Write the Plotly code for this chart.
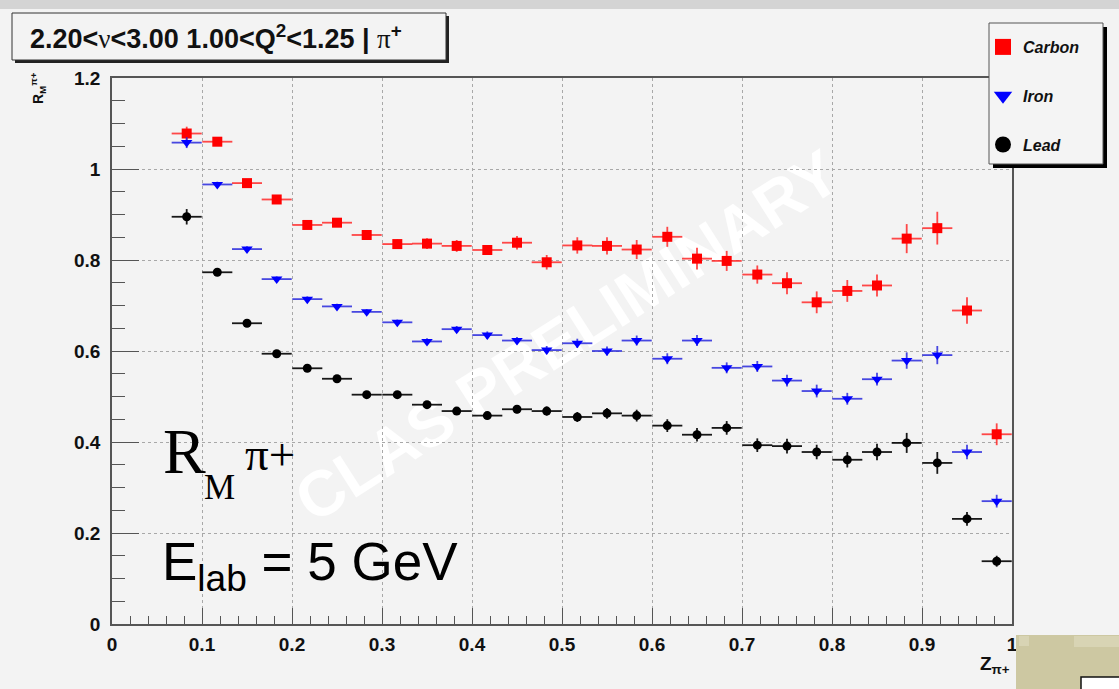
import plotly.graph_objects as go

W, H = 1119, 689

# ---- data ----
z_bins = [0.083, 0.117, 0.150, 0.183, 0.217, 0.250, 0.283, 0.317, 0.350, 0.383,
          0.417, 0.450, 0.483, 0.517, 0.550, 0.583, 0.617, 0.650, 0.683, 0.717,
          0.750, 0.783, 0.817, 0.850, 0.883, 0.917, 0.950, 0.983]
bin_half_width = 0.0167

carbon = [1.078, 1.060, 0.969, 0.933, 0.877, 0.882, 0.855, 0.835, 0.836, 0.831,
          0.822, 0.838, 0.795, 0.832, 0.831, 0.823, 0.851, 0.803, 0.798, 0.768,
          0.749, 0.707, 0.732, 0.744, 0.847, 0.870, 0.689, 0.417]
carbon_err = [0.015, 0.008, 0.008, 0.008, 0.008, 0.008, 0.009, 0.010, 0.012, 0.013,
              0.011, 0.015, 0.016, 0.018, 0.019, 0.021, 0.022, 0.024, 0.022, 0.020,
              0.024, 0.024, 0.024, 0.024, 0.032, 0.036, 0.029, 0.024]

iron = [1.058, 0.966, 0.824, 0.758, 0.714, 0.698, 0.686, 0.663, 0.621, 0.648,
        0.635, 0.623, 0.602, 0.617, 0.600, 0.623, 0.583, 0.623, 0.563, 0.566,
        0.535, 0.512, 0.495, 0.538, 0.579, 0.591, 0.378, 0.270]
iron_err = [0.012, 0.006, 0.006, 0.006, 0.006, 0.006, 0.006, 0.006, 0.007, 0.007,
            0.008, 0.008, 0.009, 0.010, 0.010, 0.011, 0.012, 0.012, 0.012, 0.012,
            0.013, 0.014, 0.013, 0.014, 0.018, 0.020, 0.016, 0.014]

lead = [0.895, 0.773, 0.661, 0.594, 0.562, 0.539, 0.504, 0.504, 0.482, 0.468,
        0.458, 0.472, 0.468, 0.455, 0.463, 0.458, 0.436, 0.416, 0.431, 0.393,
        0.391, 0.378, 0.361, 0.378, 0.398, 0.354, 0.231, 0.138]
lead_err = [0.017, 0.006, 0.006, 0.006, 0.006, 0.006, 0.006, 0.006, 0.007, 0.007,
            0.008, 0.009, 0.010, 0.011, 0.012, 0.013, 0.014, 0.015, 0.015, 0.015,
            0.016, 0.016, 0.017, 0.018, 0.022, 0.024, 0.015, 0.012]

x_ticks = [0, 0.1, 0.2, 0.3, 0.4, 0.5, 0.6, 0.7, 0.8, 0.9, 1]
x_tick_text = ["0", "0.1", "0.2", "0.3", "0.4", "0.5", "0.6", "0.7", "0.8", "0.9", "1"]
y_ticks = [0, 0.2, 0.4, 0.6, 0.8, 1.0, 1.2]
y_tick_text = ["0", "0.2", "0.4", "0.6", "0.8", "1", "1.2"]

series = [
    ("Carbon", carbon, carbon_err, "square", 10, "#ff0000", "rgba(255,40,40,0.85)"),
    ("Iron", iron, iron_err, "triangle-down", 10, "#0000ff", "rgba(40,40,220,0.85)"),
    ("Lead", lead, lead_err, "circle", 9, "#000000", "rgba(0,0,0,0.9)"),
]

BG = "#f3f3f3"


def px(x):
    return x / W


def py(y):
    return 1 - y / H


fig = go.Figure()
for name, vals, errs, sym, size, col, ecol in series:
    fig.add_trace(go.Scatter(
        x=z_bins, y=vals, mode="markers", name=name, showlegend=False,
        marker=dict(symbol=sym, size=size, color=col, line=dict(width=0)),
        error_x=dict(type="constant", value=bin_half_width, color=ecol, thickness=1.8, width=0),
        error_y=dict(type="data", array=errs, color=ecol, thickness=1.8, width=0),
    ))
# legend entries
for name, vals, errs, sym, size, col, ecol in series:
    fig.add_trace(go.Scatter(
        x=[None], y=[None], mode="markers", name=name, legendgroup=name,
        marker=dict(symbol=sym, size=20, color=col),
    ))

font_tick = dict(family="Liberation Sans", size=19, color="#111", weight="bold")

fig.update_layout(
    width=W, height=H, autosize=False,
    margin=dict(l=0, r=0, t=0, b=0, pad=0),
    paper_bgcolor=BG, plot_bgcolor=BG,
    xaxis=dict(
        domain=[px(112), px(1012)], range=[0, 1], automargin=False,
        tickvals=x_ticks, ticktext=x_tick_text,
        ticks="inside", ticklen=16, tickwidth=1, tickcolor="#555",
        minor=dict(ticks="inside", ticklen=8, dtick=0.02, tick0=0, tickcolor="#555", showgrid=False),
        showline=True, linecolor="#555", linewidth=1.5, mirror=True,
        showgrid=True, gridcolor="#a8a8a8", griddash="dot", gridwidth=1,
        zeroline=False, tickfont=font_tick, ticklabelstandoff=2,
    ),
    yaxis=dict(
        domain=[py(624), py(78)], range=[0, 1.2], automargin=False,
        tickvals=y_ticks, ticktext=y_tick_text,
        ticks="inside", ticklen=27, tickwidth=1, tickcolor="#555",
        minor=dict(ticks="inside", ticklen=13, dtick=0.05, tick0=0, tickcolor="#555", showgrid=False),
        showline=True, linecolor="#555", linewidth=1.5, mirror=True,
        showgrid=True, gridcolor="#a8a8a8", griddash="dot", gridwidth=1,
        zeroline=False, tickfont=font_tick, ticklabelstandoff=6,
    ),
    legend=dict(
        x=px(983), y=py(30), xanchor="left", yanchor="top",
        bgcolor="rgba(0,0,0,0)", borderwidth=0,
        font=dict(family="Liberation Sans", size=16, color="#111", weight="bold", style="italic"),
        tracegroupgap=25, traceorder="grouped", itemsizing="trace",
    ),
)

shapes = []
# top textured band of the slide
shapes.append(dict(type="rect", xref="paper", yref="paper", x0=0, x1=1, y0=py(9), y1=1,
                   fillcolor="#d4d4d4", line=dict(width=0), layer="below"))
# title box with shadow
shapes.append(dict(type="rect", xref="paper", yref="paper", x0=px(15), x1=px(449), y0=py(63), y1=py(16),
                   fillcolor="#222", line=dict(width=0)))
shapes.append(dict(type="rect", xref="paper", yref="paper", x0=px(12), x1=px(446), y0=py(60), y1=py(13),
                   fillcolor=BG, line=dict(color="#333", width=1)))
# legend box with shadow
shapes.append(dict(type="rect", xref="paper", yref="paper", x0=px(993), x1=px(1107), y0=py(168), y1=py(27),
                   fillcolor="#000", line=dict(width=0)))
shapes.append(dict(type="rect", xref="paper", yref="paper", x0=px(989), x1=px(1103), y0=py(164), y1=py(23),
                   fillcolor="#f4f4f4", line=dict(color="#555", width=1)))
# bottom-right slide decoration
shapes.append(dict(type="rect", xref="paper", yref="paper", x0=px(1016), x1=1, y0=0, y1=py(635),
                   fillcolor="#cdc8a2", line=dict(width=0)))
shapes.append(dict(type="rect", xref="paper", yref="paper", x0=px(1019), x1=px(1029), y0=py(646), y1=py(636),
                   fillcolor="#d8d4b4", line=dict(width=0)))
shapes.append(dict(type="rect", xref="paper", yref="paper", x0=px(1074), x1=1, y0=py(647), y1=py(636),
                   fillcolor="#d8d4b4", line=dict(width=0)))
shapes.append(dict(type="rect", xref="paper", yref="paper", x0=px(1081), x1=px(1125), y0=py(695), y1=py(677),
                   fillcolor="#ffffff", line=dict(color="#111", width=1.5)))
# watermark (between grid and data)
shapes.append(dict(type="line", xref="paper", yref="paper",
                   x0=px(300), y0=py(500), x1=px(828), y1=py(162),
                   line=dict(color="rgba(0,0,0,0)", width=0), layer="between",
                   label=dict(text="CLAS PRELIMINARY", textposition="middle", yanchor="middle",
                              font=dict(family="Liberation Sans", size=64, weight="bold",
                                        color="rgba(255,255,255,0.95)"))))
fig.update_layout(shapes=shapes)

ann = []
ann.append(dict(xref="paper", yref="paper", x=px(28), y=py(37), xanchor="left", yanchor="middle",
                showarrow=False,
                text=("<b>2.20&lt;</b><span style='font-family:Liberation Serif;font-weight:normal'>ν</span>"
                      "<b>&lt;3.00 1.00&lt;Q<sup>2</sup>&lt;1.25 | </b>"
                      "<span style='font-family:Liberation Serif;font-weight:normal'>π</span><b><sup>+</sup></b>"),
                font=dict(family="Liberation Sans", size=27, color="#111")))
# R_M^{pi+}
ann.append(dict(xref="paper", yref="paper", x=px(161), y=py(452), xanchor="left", yanchor="middle",
                showarrow=False, text="R",
                font=dict(family="Liberation Serif", size=64, color="#000")))
ann.append(dict(xref="paper", yref="paper", x=px(202), y=py(487), xanchor="left", yanchor="middle",
                showarrow=False, text="M",
                font=dict(family="Liberation Serif", size=35, color="#000")))
ann.append(dict(xref="paper", yref="paper", x=px(243), y=py(454), xanchor="left", yanchor="middle",
                showarrow=False, text="π+",
                font=dict(family="Liberation Serif", size=47, color="#000")))
# E_lab = 5 GeV
ann.append(dict(xref="paper", yref="paper", x=px(160), y=py(565), xanchor="left", yanchor="middle",
                showarrow=False, text="E<sub>lab</sub> = 5 GeV",
                font=dict(family="Liberation Sans", size=53, color="#000")))
# axis titles
ann.append(dict(xref="paper", yref="paper", x=px(38), y=py(88), xanchor="center", yanchor="middle",
                showarrow=False, textangle=-90, text="R<sub>M</sub><sup>π+</sup>",
                font=dict(family="Liberation Sans", size=14, color="#111", weight="bold")))
ann.append(dict(xref="paper", yref="paper", x=px(1012), y=py(665), xanchor="right", yanchor="middle",
                showarrow=False, text="Z<sub>π+</sub>",
                font=dict(family="Liberation Sans", size=19, color="#111", weight="bold")))
fig.update_layout(annotations=ann)

fig.write_html("out.html",
               config={"displayModeBar": False},
               post_script="document.body.style.margin='0';document.body.style.overflow='hidden';")
